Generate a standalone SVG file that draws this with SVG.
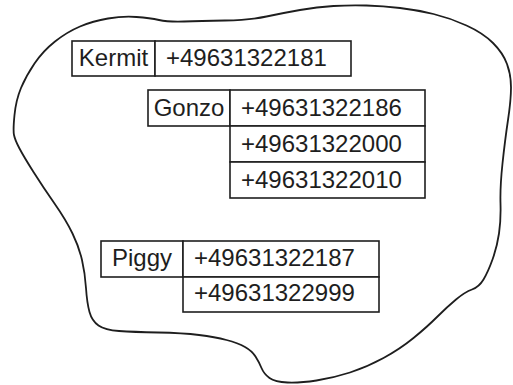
<svg xmlns="http://www.w3.org/2000/svg" width="513" height="385" viewBox="0 0 513 385">
  <style>
    .cell { fill: #ffffff; stroke: #1e1e1e; stroke-width: 1.6; }
    .blob { fill: #ffffff; stroke: #1e1e1e; stroke-width: 1.8; stroke-linejoin: round; }
    .name { font-family: "Liberation Sans", Arial, sans-serif; font-size: 24px; fill: #1e1e1e; text-anchor: middle; }
    .num  { font-family: "Liberation Sans", Arial, sans-serif; font-size: 24px; fill: #1e1e1e; }
  </style>
  <rect width="513" height="385" fill="#ffffff"/>

  <!-- enclosing free-form region -->
  <g id="region">
    <path class="blob" d="M14,135 Q13,130 14.5,115 Q16,100 21,88 Q26,76 34.5,63.5 Q43,51 55,41.5 Q67,32 80,26.5 Q93,21 108,18.5 Q123,16 136.5,17 Q150,18 159,20 Q168,22 184,21.5 Q200,21 225,20.5 Q250,20 266.5,16.5 Q283,13 300,10 Q317,7 333.5,6 Q350,5 366.5,5.5 Q383,6 400,8 Q417,10 433.5,14 Q450,18 466.5,25.5 Q483,33 493,43 Q503,53 507,64 Q511,75 511,87.5 Q511,100 508,120 Q505,140 502.5,163.5 Q500,187 500.5,203.5 Q501,220 499,233.5 Q497,247 492.5,259.5 Q488,272 483.5,279.5 Q479,287 472,289.5 Q465,292 456,299.5 Q447,307 437,317 Q427,327 413.5,338 Q400,349 383.5,358 Q367,367 350,372.5 Q333,378 316.5,380.5 Q300,383 287.5,382.5 Q275,382 269.5,378 Q264,374 261.5,368 Q259,362 255.5,356.5 Q252,351 245,347 Q238,343 226.5,340 Q215,337 199,335 Q183,333 158,332.5 Q133,332 119,331 Q105,330 98.5,325.5 Q92,321 89.5,312 Q87,303 86,288 Q85,273 82,260 Q79,247 72.5,233.5 Q66,220 54.5,203.5 Q43,187 33.5,172 Q24,157 19.5,148.5 Q15,140 14,135 Z"/>
  </g>

  <!-- Kermit -->
  <g id="kermit">
    <rect class="cell" x="72" y="41" width="83" height="35"/>
    <text class="name" x="113.5" y="66">Kermit</text>
    <rect class="cell" x="155" y="41" width="196" height="35"/>
    <text class="num" x="166" y="66">+49631322181</text>
  </g>

  <!-- Gonzo -->
  <g id="gonzo">
    <rect class="cell" x="148" y="90" width="82" height="36"/>
    <text class="name" x="189" y="115.5">Gonzo</text>
    <rect class="cell" x="230" y="90" width="195" height="36"/>
    <text class="num" x="241" y="115.5">+49631322186</text>
    <rect class="cell" x="230" y="126" width="195" height="36"/>
    <text class="num" x="241" y="152">+49631322000</text>
    <rect class="cell" x="230" y="162" width="195" height="36"/>
    <text class="num" x="241" y="188">+49631322010</text>
  </g>

  <!-- Piggy -->
  <g id="piggy">
    <rect class="cell" x="101" y="241" width="82" height="36"/>
    <text class="name" x="142" y="265.5">Piggy</text>
    <rect class="cell" x="183" y="241" width="196" height="36"/>
    <text class="num" x="194" y="265.5">+49631322187</text>
    <rect class="cell" x="183" y="277" width="196" height="35"/>
    <text class="num" x="194" y="301">+49631322999</text>
  </g>
</svg>
